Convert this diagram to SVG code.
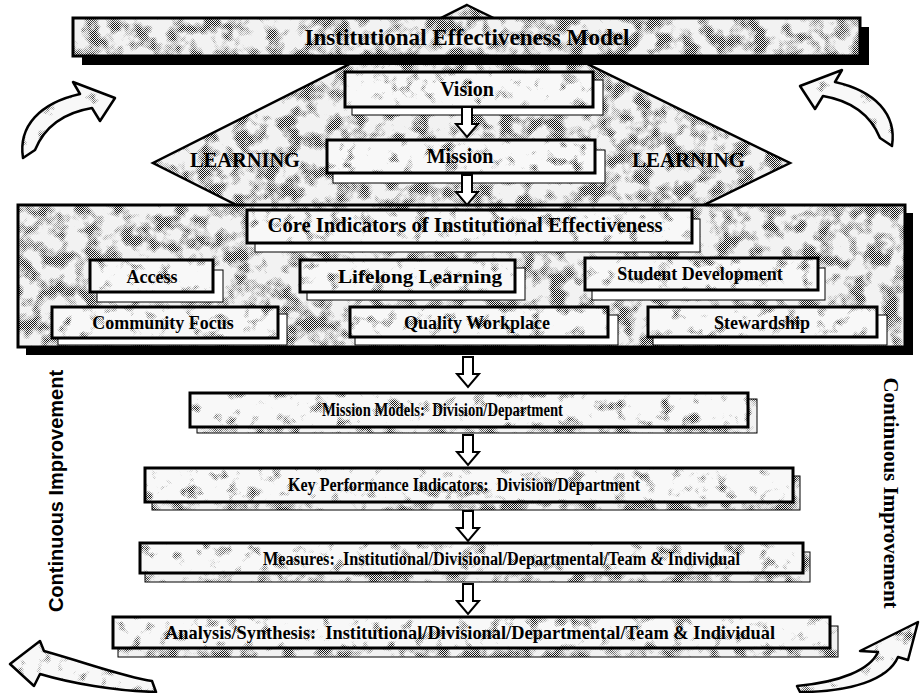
<svg xmlns="http://www.w3.org/2000/svg" xmlns:xlink="http://www.w3.org/1999/xlink" width="920" height="693" viewBox="0 0 920 693">
<style>
.t{font-family:"Liberation Serif","Times New Roman",serif;font-weight:bold;fill:#000}
.box{stroke:#000;stroke-width:3}
.shw{fill:#fff;stroke:#000;stroke-width:1}
.shd{stroke:#000;stroke-width:1}
.arr{fill:#fff;stroke:#000;stroke-width:2;stroke-linejoin:miter}
.cv{stroke:#000;stroke-width:2.5;stroke-linejoin:round}
</style>
<defs>
<pattern id="chk" width="2" height="2" patternUnits="userSpaceOnUse"><rect width="1" height="1" fill="#111"/><rect x="1" y="1" width="1" height="1" fill="#111"/></pattern>
<filter id="mD" x="0" y="0" width="920" height="693" filterUnits="userSpaceOnUse" primitiveUnits="userSpaceOnUse" color-interpolation-filters="sRGB">
<feTurbulence type="fractalNoise" baseFrequency="0.06" numOctaves="3" seed="5" result="n"/>
<feColorMatrix in="n" type="matrix" values="0 0 0 0 0  0 0 0 0 0  0 0 0 0 0  4 0 0 0 -1.75" result="m"/>
<feComposite in="SourceGraphic" in2="m" operator="in"/>
</filter>
<filter id="mL" x="0" y="0" width="920" height="693" filterUnits="userSpaceOnUse" primitiveUnits="userSpaceOnUse" color-interpolation-filters="sRGB">
<feTurbulence type="fractalNoise" baseFrequency="0.07" numOctaves="3" seed="11" result="n"/>
<feColorMatrix in="n" type="matrix" values="0 0 0 0 0  0 0 0 0 0  0 0 0 0 0  4 0 0 0 -2.3" result="m"/>
<feComposite in="SourceGraphic" in2="m" operator="in"/>
</filter>
<pattern id="texD" patternUnits="userSpaceOnUse" width="920" height="693"><rect width="920" height="693" fill="#f2f2f2"/><rect width="920" height="693" fill="url(#chk)" filter="url(#mD)"/></pattern>
<pattern id="texL" patternUnits="userSpaceOnUse" width="920" height="693"><rect width="920" height="693" fill="#f8f8f8"/><rect width="920" height="693" fill="url(#chk)" filter="url(#mL)"/></pattern>
<path id="dn" d="M-5 0H5V17H11L0 30L-11 17H-5Z"/>
<path id="cv1" d="M23,158 C18,126 40,103 80,94 L73,82 L115,98 L100,121 L92,108 C62,113 44,128 35,150 Z"/>
</defs>

<g id="learning-diamond">
<polygon points="467,5 790,163 467,321 153,163" fill="url(#texD)" stroke="#000" stroke-width="2.5"/>
<text class="t" x="190" y="167" font-size="22" textLength="110" lengthAdjust="spacingAndGlyphs">LEARNING</text>
<text class="t" x="632" y="167" font-size="22" textLength="113" lengthAdjust="spacingAndGlyphs">LEARNING</text>
</g>

<g id="title">
<rect x="82" y="27" width="787" height="38" fill="#000"/>
<rect class="box" x="73" y="18" width="787" height="38" fill="url(#texD)"/>
<text class="t" x="467" y="45" font-size="23" text-anchor="middle" textLength="325" lengthAdjust="spacingAndGlyphs">Institutional Effectiveness Model</text>
</g>

<g id="core-indicators-panel">
<rect x="26" y="213" width="887" height="142" fill="#000"/>
<rect class="box" x="18" y="205" width="887" height="142" fill="url(#texD)"/>
</g>

<g id="vision">
<rect class="shw" x="352" y="80" width="251" height="35"/>
<rect class="box" x="345" y="72" width="248" height="35" fill="url(#texL)"/>
<text class="t" x="467" y="96" font-size="20" text-anchor="middle">Vision</text>
</g>

<g id="mission">
<rect class="shw" x="333" y="150" width="272" height="33"/>
<rect class="box" x="327" y="140" width="268" height="33" fill="url(#texL)"/>
<text class="t" x="460" y="163" font-size="20" text-anchor="middle">Mission</text>
</g>

<g id="core-indicators">
<rect class="shw" x="255" y="219" width="445" height="33"/>
<rect class="box" x="247" y="210" width="445" height="33" fill="url(#texL)"/>
<text class="t" x="465" y="232" font-size="21" text-anchor="middle" textLength="395" lengthAdjust="spacingAndGlyphs">Core Indicators of Institutional Effectiveness</text>
</g>

<g id="access">
<rect class="shw" x="97" y="270" width="126" height="32"/>
<rect class="box" x="90" y="260" width="123" height="32" fill="url(#texL)"/>
<text class="t" x="152" y="283" font-size="18" text-anchor="middle">Access</text>
</g>

<g id="lifelong-learning">
<rect class="shw" x="307" y="268" width="218" height="32"/>
<rect class="box" x="300" y="260" width="215" height="32" fill="url(#texL)"/>
<text class="t" x="420" y="283" font-size="19" text-anchor="middle" textLength="164" lengthAdjust="spacingAndGlyphs">Lifelong Learning</text>
</g>

<g id="student-development">
<rect class="shw" x="592" y="268" width="233" height="32"/>
<rect class="box" x="585" y="258" width="233" height="32" fill="url(#texL)"/>
<text class="t" x="700" y="280" font-size="18" text-anchor="middle">Student Development</text>
</g>

<g id="community-focus">
<rect class="shw" x="58" y="314" width="229" height="31"/>
<rect class="box" x="52" y="307" width="226" height="31" fill="url(#texL)"/>
<text class="t" x="163" y="329" font-size="18" text-anchor="middle">Community Focus</text>
</g>

<g id="quality-workplace">
<rect class="shw" x="355" y="315" width="263" height="30"/>
<rect class="box" x="350" y="307" width="258" height="30" fill="url(#texL)"/>
<text class="t" x="477" y="329" font-size="18" text-anchor="middle">Quality Workplace</text>
</g>

<g id="stewardship">
<rect class="shw" x="653" y="315" width="234" height="30"/>
<rect class="box" x="648" y="307" width="229" height="30" fill="url(#texL)"/>
<text class="t" x="762" y="329" font-size="18" text-anchor="middle">Stewardship</text>
</g>

<g id="mission-models">
<rect class="shd" x="197" y="399" width="560" height="34" fill="url(#texD)"/>
<rect class="box" x="190" y="393" width="558" height="34" fill="url(#texL)"/>
<text class="t" x="322" y="416" font-size="19" textLength="241" lengthAdjust="spacingAndGlyphs">Mission Models:&#160; Division/Department</text>
</g>

<g id="key-performance-indicators">
<rect class="shd" x="152" y="476" width="648" height="34" fill="url(#texD)"/>
<rect class="box" x="145" y="468" width="648" height="34" fill="url(#texL)"/>
<text class="t" x="288" y="491" font-size="19" textLength="352" lengthAdjust="spacingAndGlyphs">Key Performance Indicators:&#160; Division/Department</text>
</g>

<g id="measures">
<rect class="shd" x="145" y="552" width="665" height="30" fill="url(#texD)"/>
<rect class="box" x="140" y="543" width="663" height="30" fill="url(#texL)"/>
<text class="t" x="263" y="565" font-size="18" textLength="477" lengthAdjust="spacingAndGlyphs">Measures:&#160; Institutional/Divisional/Departmental/Team &amp; Individual</text>
</g>

<g id="analysis-synthesis">
<rect class="shd" x="118" y="626" width="720" height="31" fill="url(#texD)"/>
<rect class="box" x="113" y="617" width="717" height="31" fill="url(#texL)"/>
<text class="t" x="165" y="639" font-size="19" textLength="610" lengthAdjust="spacingAndGlyphs">Analysis/Synthesis:&#160; Institutional/Divisional/Departmental/Team &amp; Individual</text>
</g>

<g id="continuous-improvement-left">
<text transform="translate(63,491) rotate(-90)" font-family="'Liberation Sans',Arial,sans-serif" font-weight="bold" font-size="20" text-anchor="middle">Continuous Improvement</text>
</g>
<g id="continuous-improvement-right">
<text class="t" transform="translate(884,493) rotate(90)" font-size="21" text-anchor="middle">Continuous Improvement</text>
</g>

<g id="connectors">
<use href="#dn" class="arr" x="467" y="107"/>
<use href="#dn" class="arr" x="467" y="175"/>
<use href="#dn" class="arr" x="468" y="357"/>
<use href="#dn" class="arr" x="468" y="435"/>
<use href="#dn" class="arr" x="468" y="511"/>
<use href="#dn" class="arr" x="468" y="584"/>
<use href="#cv1" class="cv" fill="url(#texL)"/>
<use href="#cv1" class="cv" fill="url(#texL)" transform="translate(915,-12) scale(-1,1)"/>
<path class="cv" fill="url(#texL)" d="M10,664 L40,641 L44,651 C90,664 125,677 152,681 L156,692 C115,691 70,683 40,674 L34,686 Z"/>
<path class="cv" fill="url(#texL)" d="M918,622 L908,660 L898,657 C888,680 850,692 800,692 L797,686 C840,682 870,670 878,652 L860,651 Z"/>
</g>
</svg>
